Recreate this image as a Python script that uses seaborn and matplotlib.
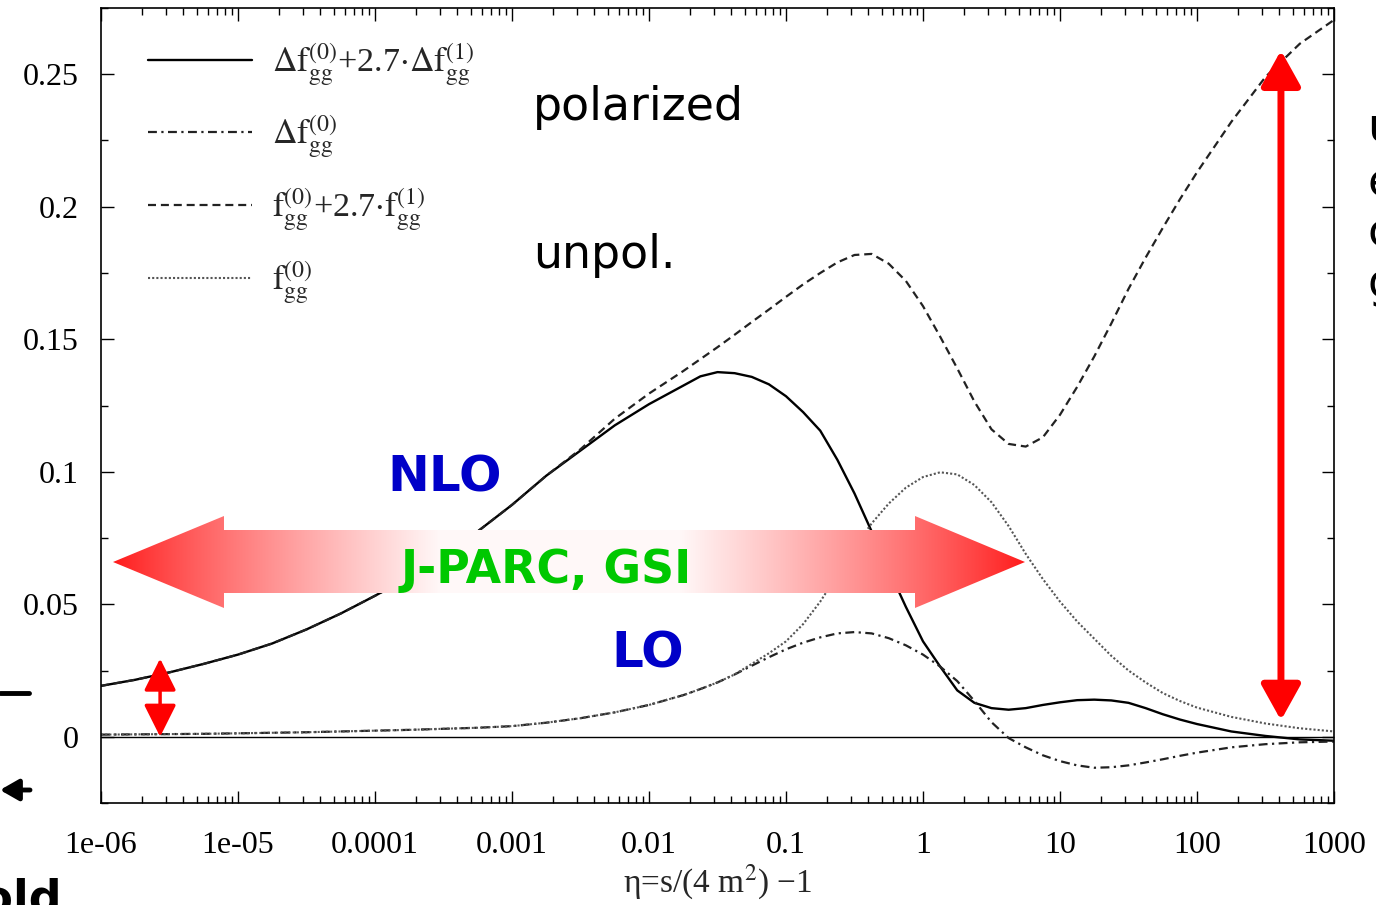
import numpy as np
import pandas as pd
import matplotlib
matplotlib.use("Agg")
import matplotlib.pyplot as plt
import seaborn as sns
from matplotlib.patches import Polygon
from matplotlib.ticker import FixedLocator, LogLocator, NullFormatter, MultipleLocator

# ---------------- data ----------------
log_eta = [-6.0, -5.75, -5.5, -5.25, -5.0, -4.75, -4.5, -4.25, -4.0, -3.75, -3.5, -3.25,
           -3.0, -2.75, -2.5, -2.25, -2.0, -1.75,
           -1.625, -1.5, -1.375, -1.25, -1.125, -1.0, -0.875, -0.75, -0.625, -0.5,
           -0.375, -0.25, -0.125, 0.0, 0.125, 0.25, 0.375, 0.5, 0.625, 0.75, 0.875,
           1.0, 1.125, 1.25, 1.375, 1.5, 1.625, 1.75, 1.875, 2.0,
           2.25, 2.5, 2.75, 3.0]

pol_nlo = [0.0192, 0.0215, 0.0243, 0.0275, 0.0310, 0.0352, 0.0405, 0.0465, 0.0532, 0.0602,
           0.0685, 0.0775, 0.0875, 0.0985, 0.1080, 0.1175, 0.1255, 0.1325,
           0.1360, 0.1376, 0.1372, 0.1358, 0.1330, 0.1285, 0.1225, 0.1155, 0.1045, 0.0918,
           0.0775, 0.0630, 0.0490, 0.0360, 0.0265, 0.0175, 0.0128, 0.0108, 0.0102, 0.0108,
           0.0120, 0.0130, 0.0138, 0.0140, 0.0137, 0.0128, 0.0108, 0.0085, 0.0065, 0.0048,
           0.0020, 0.0003, -0.0010, -0.0015]

pol_lo = [0.0008, 0.0009, 0.0010, 0.0011, 0.0013, 0.0015, 0.0017, 0.0020, 0.0023, 0.0026,
          0.0030, 0.0034, 0.0040, 0.0053, 0.0070, 0.0092, 0.0120, 0.0157,
          0.0180, 0.0205, 0.0235, 0.0268, 0.0300, 0.0330, 0.0355, 0.0375, 0.0390, 0.0395,
          0.0390, 0.0372, 0.0345, 0.0310, 0.0265, 0.0210, 0.0135, 0.0055, -0.0005, -0.0040,
          -0.0070, -0.0092, -0.0108, -0.0117, -0.0115, -0.0108, -0.0097, -0.0085, -0.0072,
          -0.0060, -0.0040, -0.0028, -0.0021, -0.0018]

unpol_nlo = [0.0192, 0.0215, 0.0243, 0.0275, 0.0310, 0.0352, 0.0405, 0.0465, 0.0532, 0.0602,
             0.0685, 0.0775, 0.0875, 0.0985, 0.1085, 0.1200, 0.1295, 0.1380,
             0.1425, 0.1470, 0.1517, 0.1565, 0.1612, 0.1660, 0.1707, 0.1750, 0.1790, 0.1818,
             0.1822, 0.1785, 0.1720, 0.1625, 0.1510, 0.1390, 0.1265, 0.1160, 0.1105, 0.1095,
             0.1130, 0.1215, 0.1320, 0.1435, 0.1560, 0.1690, 0.1808, 0.1920, 0.2028, 0.2130,
             0.2320, 0.2490, 0.2615, 0.2705]

unpol_lo = [0.0008, 0.0009, 0.0010, 0.0011, 0.0013, 0.0015, 0.0017, 0.0020, 0.0023, 0.0026,
            0.0030, 0.0034, 0.0040, 0.0053, 0.0070, 0.0092, 0.0120, 0.0157,
            0.0180, 0.0205, 0.0235, 0.0275, 0.0315, 0.0360, 0.0425, 0.0510, 0.0610, 0.0715,
            0.0805, 0.0880, 0.0940, 0.0980, 0.0998, 0.0990, 0.0950, 0.0885, 0.0795, 0.0690,
            0.0595, 0.0510, 0.0435, 0.0370, 0.0305, 0.0250, 0.0205, 0.0165, 0.0135, 0.0110,
            0.0075, 0.0050, 0.0032, 0.0020]

series_labels = [
    r"$\Delta\mathrm{f}_{\mathrm{gg}}^{(0)}$+2.7$\cdot\Delta\mathrm{f}_{\mathrm{gg}}^{(1)}$",
    r"$\Delta\mathrm{f}_{\mathrm{gg}}^{(0)}$",
    r"$\mathrm{f}_{\mathrm{gg}}^{(0)}$+2.7$\cdot\mathrm{f}_{\mathrm{gg}}^{(1)}$",
    r"$\mathrm{f}_{\mathrm{gg}}^{(0)}$",
]
x_ticks = [1e-6, 1e-5, 1e-4, 1e-3, 1e-2, 1e-1, 1, 10, 100, 1000]
x_ticklabels = ["1e-06", "1e-05", "0.0001", "0.001", "0.01", "0.1", "1", "10", "100", "1000"]
y_ticks = [0, 0.05, 0.1, 0.15, 0.2, 0.25]
y_ticklabels = ["0", "0.05", "0.1", "0.15", "0.2", "0.25"]

# ---------------- style ----------------
sns.set_style("ticks")
plt.rcParams["font.family"] = ["Liberation Serif", "DejaVu Serif"]
plt.rcParams["mathtext.fontset"] = "stix"

W, H = 1376, 905
fig = plt.figure(figsize=(W / 100, H / 100), dpi=100)
ax = fig.add_axes([101 / W, 1 - 803 / H, (1334 - 101) / W, (803 - 8) / H])

eta = 10 ** np.array(log_eta)
df = pd.DataFrame({"eta": eta, "pol_nlo": pol_nlo, "pol_lo": pol_lo,
                   "unpol_nlo": unpol_nlo, "unpol_lo": unpol_lo})

styles = [
    ("pol_nlo", "black", 1.7, "-"),
    ("pol_lo", "#222222", 1.6, (0, (4, 2, 1, 2))),
    ("unpol_nlo", "#222222", 1.6, (0, (3.6, 2.2))),
    ("unpol_lo", "#555555", 1.5, (0, (1, 1))),
]
for (col, c, lw, ls), lab in zip(styles, series_labels):
    sns.lineplot(data=df, x="eta", y=col, ax=ax, color=c, linewidth=lw,
                 linestyle=ls, label=lab, sort=False)

ax.axhline(0, color="black", lw=1.0, zorder=1)
ax.set_xscale("log")
ax.set_xlim(1e-6, 1000)
ax.set_ylim(-0.025, 0.275)

ax.xaxis.set_major_locator(FixedLocator(x_ticks))
ax.set_xticklabels(x_ticklabels)
ax.xaxis.set_minor_locator(LogLocator(base=10, subs=np.arange(2, 10), numticks=100))
ax.xaxis.set_minor_formatter(NullFormatter())
ax.yaxis.set_major_locator(FixedLocator(y_ticks))
ax.set_yticklabels(y_ticklabels)
ax.yaxis.set_minor_locator(MultipleLocator(0.025))

ax.tick_params(which="both", direction="in", top=True, right=True, colors="black",
               labelsize=23, width=1.0)
ax.tick_params(which="major", length=9)
ax.tick_params(which="minor", length=5)
ax.tick_params(axis="x", which="major", pad=20)
ax.tick_params(axis="y", which="major", pad=16)
for sp in ax.spines.values():
    sp.set_color("black")
    sp.set_linewidth(1.2)

ax.set_xlabel("η=s/(4 m$^{2}$) −1", fontsize=24, labelpad=2)
ax.set_ylabel("")

leg = ax.legend(loc="upper left", bbox_to_anchor=(0.038, 0.958), frameon=False,
                fontsize=24.5, handlelength=3.05, handletextpad=0.6, labelspacing=0.78,
                borderpad=0.0, borderaxespad=0.0)

# red range arrows (data coordinates)
ax.annotate("", xy=(2.7e-6, 0.0295), xytext=(2.7e-6, 0.0),
            arrowprops=dict(arrowstyle="<|-|>,head_length=0.9,head_width=0.45",
                            color="red", lw=2.5, mutation_scale=22,
                            shrinkA=0, shrinkB=0))
ax.annotate("", xy=(410, 0.259), xytext=(410, 0.0062),
            arrowprops=dict(arrowstyle="<|-|>,head_length=0.9,head_width=0.5",
                            color="red", lw=5, mutation_scale=24,
                            shrinkA=0, shrinkB=0))

# ---------------- overlay (pixel coordinates) ----------------
ov = fig.add_axes([0, 0, 1, 1], zorder=5)
ov.set_xlim(0, W)
ov.set_ylim(H, 0)
ov.axis("off")

# gradient double arrow
x0, x1, yt, yb = 113, 1025, 516, 608
xs = np.linspace(x0, x1, 600)
w = np.ones_like(xs)
w = np.where(xs < 440, (xs - x0) / (440 - x0), w)
w = np.where(xs > 680, (x1 - xs) / (x1 - 680), w)
w = np.clip(w, 0, 1) ** 0.85 * 0.97
red = np.array([1.0, 0.1, 0.1])
cols = red[None, :] * (1 - w[:, None]) + np.ones(3)[None, :] * w[:, None]
img = np.repeat(cols[None, :, :], 4, axis=0)
im = ov.imshow(img, extent=(x0, x1, yb, yt), aspect="auto", interpolation="bilinear", zorder=6)
poly = Polygon([(113, 562), (224, 516), (224, 530), (915, 530), (915, 516), (1025, 562),
                (915, 608), (915, 593), (224, 593), (224, 608)],
               closed=True, facecolor="none", edgecolor="none", transform=ov.transData)
ov.add_patch(poly)
im.set_clip_path(poly)
ov.set_xlim(0, W)
ov.set_ylim(H, 0)

sans = ["DejaVu Sans"]
ov.text(546, 570, "J-PARC, GSI", color="#00c800", fontsize=33, fontweight="bold",
        ha="center", va="center", family=sans, zorder=7)
ov.text(445, 477, "NLO", color="#0000c8", fontsize=36, fontweight="bold",
        ha="center", va="center", family=sans, zorder=7)
ov.text(648, 653, "LO", color="#0000c8", fontsize=36, fontweight="bold",
        ha="center", va="center", family=sans, zorder=7)
ov.text(533, 108, "polarized", color="black", fontsize=33, ha="left", va="center",
        family=sans, zorder=7)
ov.text(533, 255, "unpol.", color="black", fontsize=33, ha="left", va="center",
        family=sans, zorder=7)

# cut-off texts at the figure edges (as in the reference)
for ch, yy in zip(["u", "e", "c", "g"], [128, 184, 234, 284]):
    ov.text(1367, yy, ch, color="black", fontsize=33, ha="left", va="center",
            family=sans, zorder=7, clip_on=False)
ov.text(62, 912, "threshold", color="black", fontsize=33, fontweight="bold",
        ha="right", va="baseline", family=sans, zorder=7, clip_on=False)
ov.plot([0, 29], [693, 693], color="black", lw=3.5, clip_on=False, zorder=7)
ov.annotate("", xy=(0, 790), xytext=(30, 790),
            arrowprops=dict(arrowstyle="-|>,head_length=0.7,head_width=0.4", color="black",
                            lw=3.5, mutation_scale=16, shrinkA=0, shrinkB=0),
            annotation_clip=False, zorder=7)

fig.savefig("out.png", dpi=100)
